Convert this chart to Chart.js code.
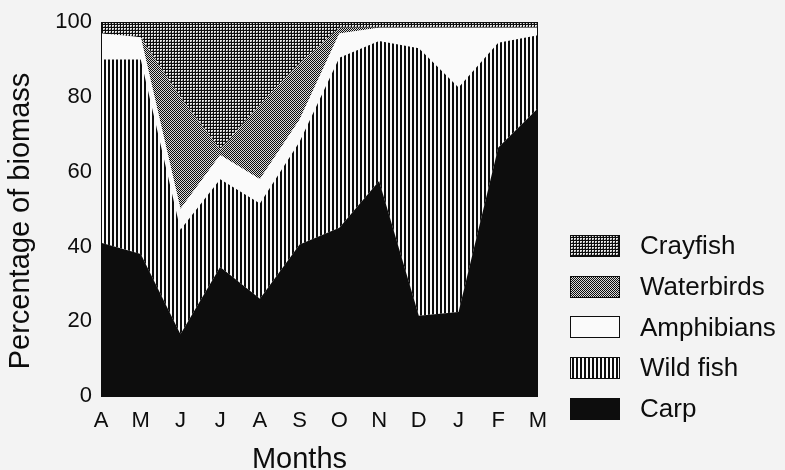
<!DOCTYPE html>
<html>
<head>
<meta charset="utf-8">
<script src="https://cdn.jsdelivr.net/npm/chart.js@4/dist/chart.umd.min.js"></script>
<style>
  html, body { margin: 0; padding: 0; background: #f3f3f3; }
  #wrap { width: 785px; height: 470px; position: relative; }
</style>
</head>
<body>
<div id="wrap"><canvas id="c" width="785" height="470"></canvas></div>
<script>
// ---- data (percentage of biomass, each component) ----
const months = ['A','M','J','J','A','S','O','N','D','J','F','M'];
const carp       = [41, 38, 16.5, 34.5, 26, 40.5, 45, 57.5, 21.5, 22.5, 66.5, 77];
const wildFish   = [49, 52, 28, 23.5, 25.5, 27.5, 45.5, 37.5, 71.5, 60, 28, 19.5];
const amphibians = [7, 6, 5.5, 6.5, 6.5, 6, 6.5, 3.5, 5.5, 16, 4, 2];
const waterbirds = [0, 0, 30, 1.5, 20, 15, 1.5, 0, 0, 0, 0, 0];
const crayfish   = [3, 4, 20, 34, 22, 11, 1.5, 1.5, 1.5, 1.5, 1.5, 1.5];
const yTicks = [0, 20, 40, 60, 80, 100];
const seriesNames = ['Carp', 'Wild fish', 'Amphibians', 'Waterbirds', 'Crayfish'];
const yTitle = 'Percentage of biomass';
const xTitle = 'Months';

const INK = '#0d0d0d';
const PAPER = '#fafafa';

function makePattern(kind) {
  const c = document.createElement('canvas');
  const g = c.getContext('2d');
  if (kind === 'vlines') {
    c.width = 4; c.height = 4;
    g.fillStyle = PAPER; g.fillRect(0, 0, 4, 4);
    g.fillStyle = INK; g.fillRect(0, 0, 2, 4);
  } else if (kind === 'grid') {
    c.width = 3; c.height = 3;
    g.fillStyle = INK; g.fillRect(0, 0, 3, 3);
    g.fillStyle = '#e6e6e6'; g.fillRect(1, 1, 2, 2);
    g.fillStyle = '#8a8a8a'; g.fillRect(2, 2, 1, 1);
  } else if (kind === 'dots') {
    c.width = 2; c.height = 2;
    g.fillStyle = '#d9d9d9'; g.fillRect(0, 0, 2, 2);
    g.fillStyle = INK; g.fillRect(0, 0, 1, 1); g.fillRect(1, 1, 1, 1);
  }
  return g.createPattern(c, 'repeat');
}

const fills = {
  'Carp': INK,
  'Wild fish': makePattern('vlines'),
  'Amphibians': PAPER,
  'Waterbirds': makePattern('dots'),
  'Crayfish': makePattern('grid')
};
const seriesData = [carp, wildFish, amphibians, waterbirds, crayfish];

const datasets = seriesNames.map((name, i) => ({
  label: name,
  data: seriesData[i],
  backgroundColor: fills[name],
  borderWidth: 0,
  borderColor: 'rgba(0,0,0,0)',
  pointRadius: 0,
  tension: 0,
  fill: i === 0 ? 'origin' : '-1'
}));

const FONT = "'Liberation Sans', Arial, sans-serif";

const decor = {
  id: 'decor',
  afterDatasetsDraw(chart) {
    const { ctx, chartArea: a } = chart;
    ctx.save();
    ctx.strokeStyle = INK;
    ctx.lineWidth = 1;
    ctx.strokeRect(Math.round(a.left) + 0.5, Math.round(a.top) + 0.5,
                   Math.round(a.right - a.left) - 1, Math.round(a.bottom - a.top));
    ctx.restore();
  },
  afterDraw(chart) {
    const { ctx } = chart;
    ctx.save();
    ctx.fillStyle = INK;
    // axis titles
    ctx.font = '29px ' + FONT;
    ctx.textAlign = 'center';
    ctx.textBaseline = 'alphabetic';
    ctx.fillText(xTitle, 299.5, 467.5);
    ctx.save();
    ctx.translate(29, 221);
    ctx.rotate(-Math.PI / 2);
    ctx.fillText(yTitle, 0, 0);
    ctx.restore();
    // legend (top entry = top series)
    ctx.font = '26px ' + FONT;
    ctx.textAlign = 'left';
    ctx.textBaseline = 'middle';
    const order = seriesNames.slice().reverse();
    order.forEach((name, k) => {
      const cy = 246 + k * 40.7;
      ctx.fillStyle = fills[name];
      ctx.fillRect(570, Math.round(cy - 11), 50, 22);
      ctx.strokeStyle = INK;
      ctx.lineWidth = 1;
      ctx.strokeRect(570.5, Math.round(cy - 11) + 0.5, 49, 21);
      ctx.fillStyle = INK;
      ctx.fillText(name, 640, cy + 1);
    });
    ctx.restore();
  }
};

new Chart(document.getElementById('c'), {
  type: 'line',
  data: { labels: months, datasets },
  options: {
    responsive: false,
    animation: false,
    layout: { padding: { left: 0, right: 247, top: 19, bottom: 0 } },
    plugins: { legend: { display: false }, tooltip: { enabled: false } },
    scales: {
      x: {
        type: 'category',
        offset: false,
        grid: { display: false, drawTicks: false },
        border: { display: false },
        ticks: { color: INK, font: { family: FONT, size: 22 }, padding: 12, maxRotation: 0, autoSkip: false },
        afterFit(s) { s.height = 74; }
      },
      y: {
        stacked: true,
        min: 0, max: 100,
        grid: { display: false, drawTicks: false },
        border: { display: false },
        afterBuildTicks(s) { s.ticks = yTicks.map(v => ({ value: v })); },
        ticks: { color: INK, font: { family: FONT, size: 22 }, padding: 9 },
        afterFit(s) { s.width = 101; }
      }
    }
  },
  plugins: [decor]
});
</script>
</body>
</html>
